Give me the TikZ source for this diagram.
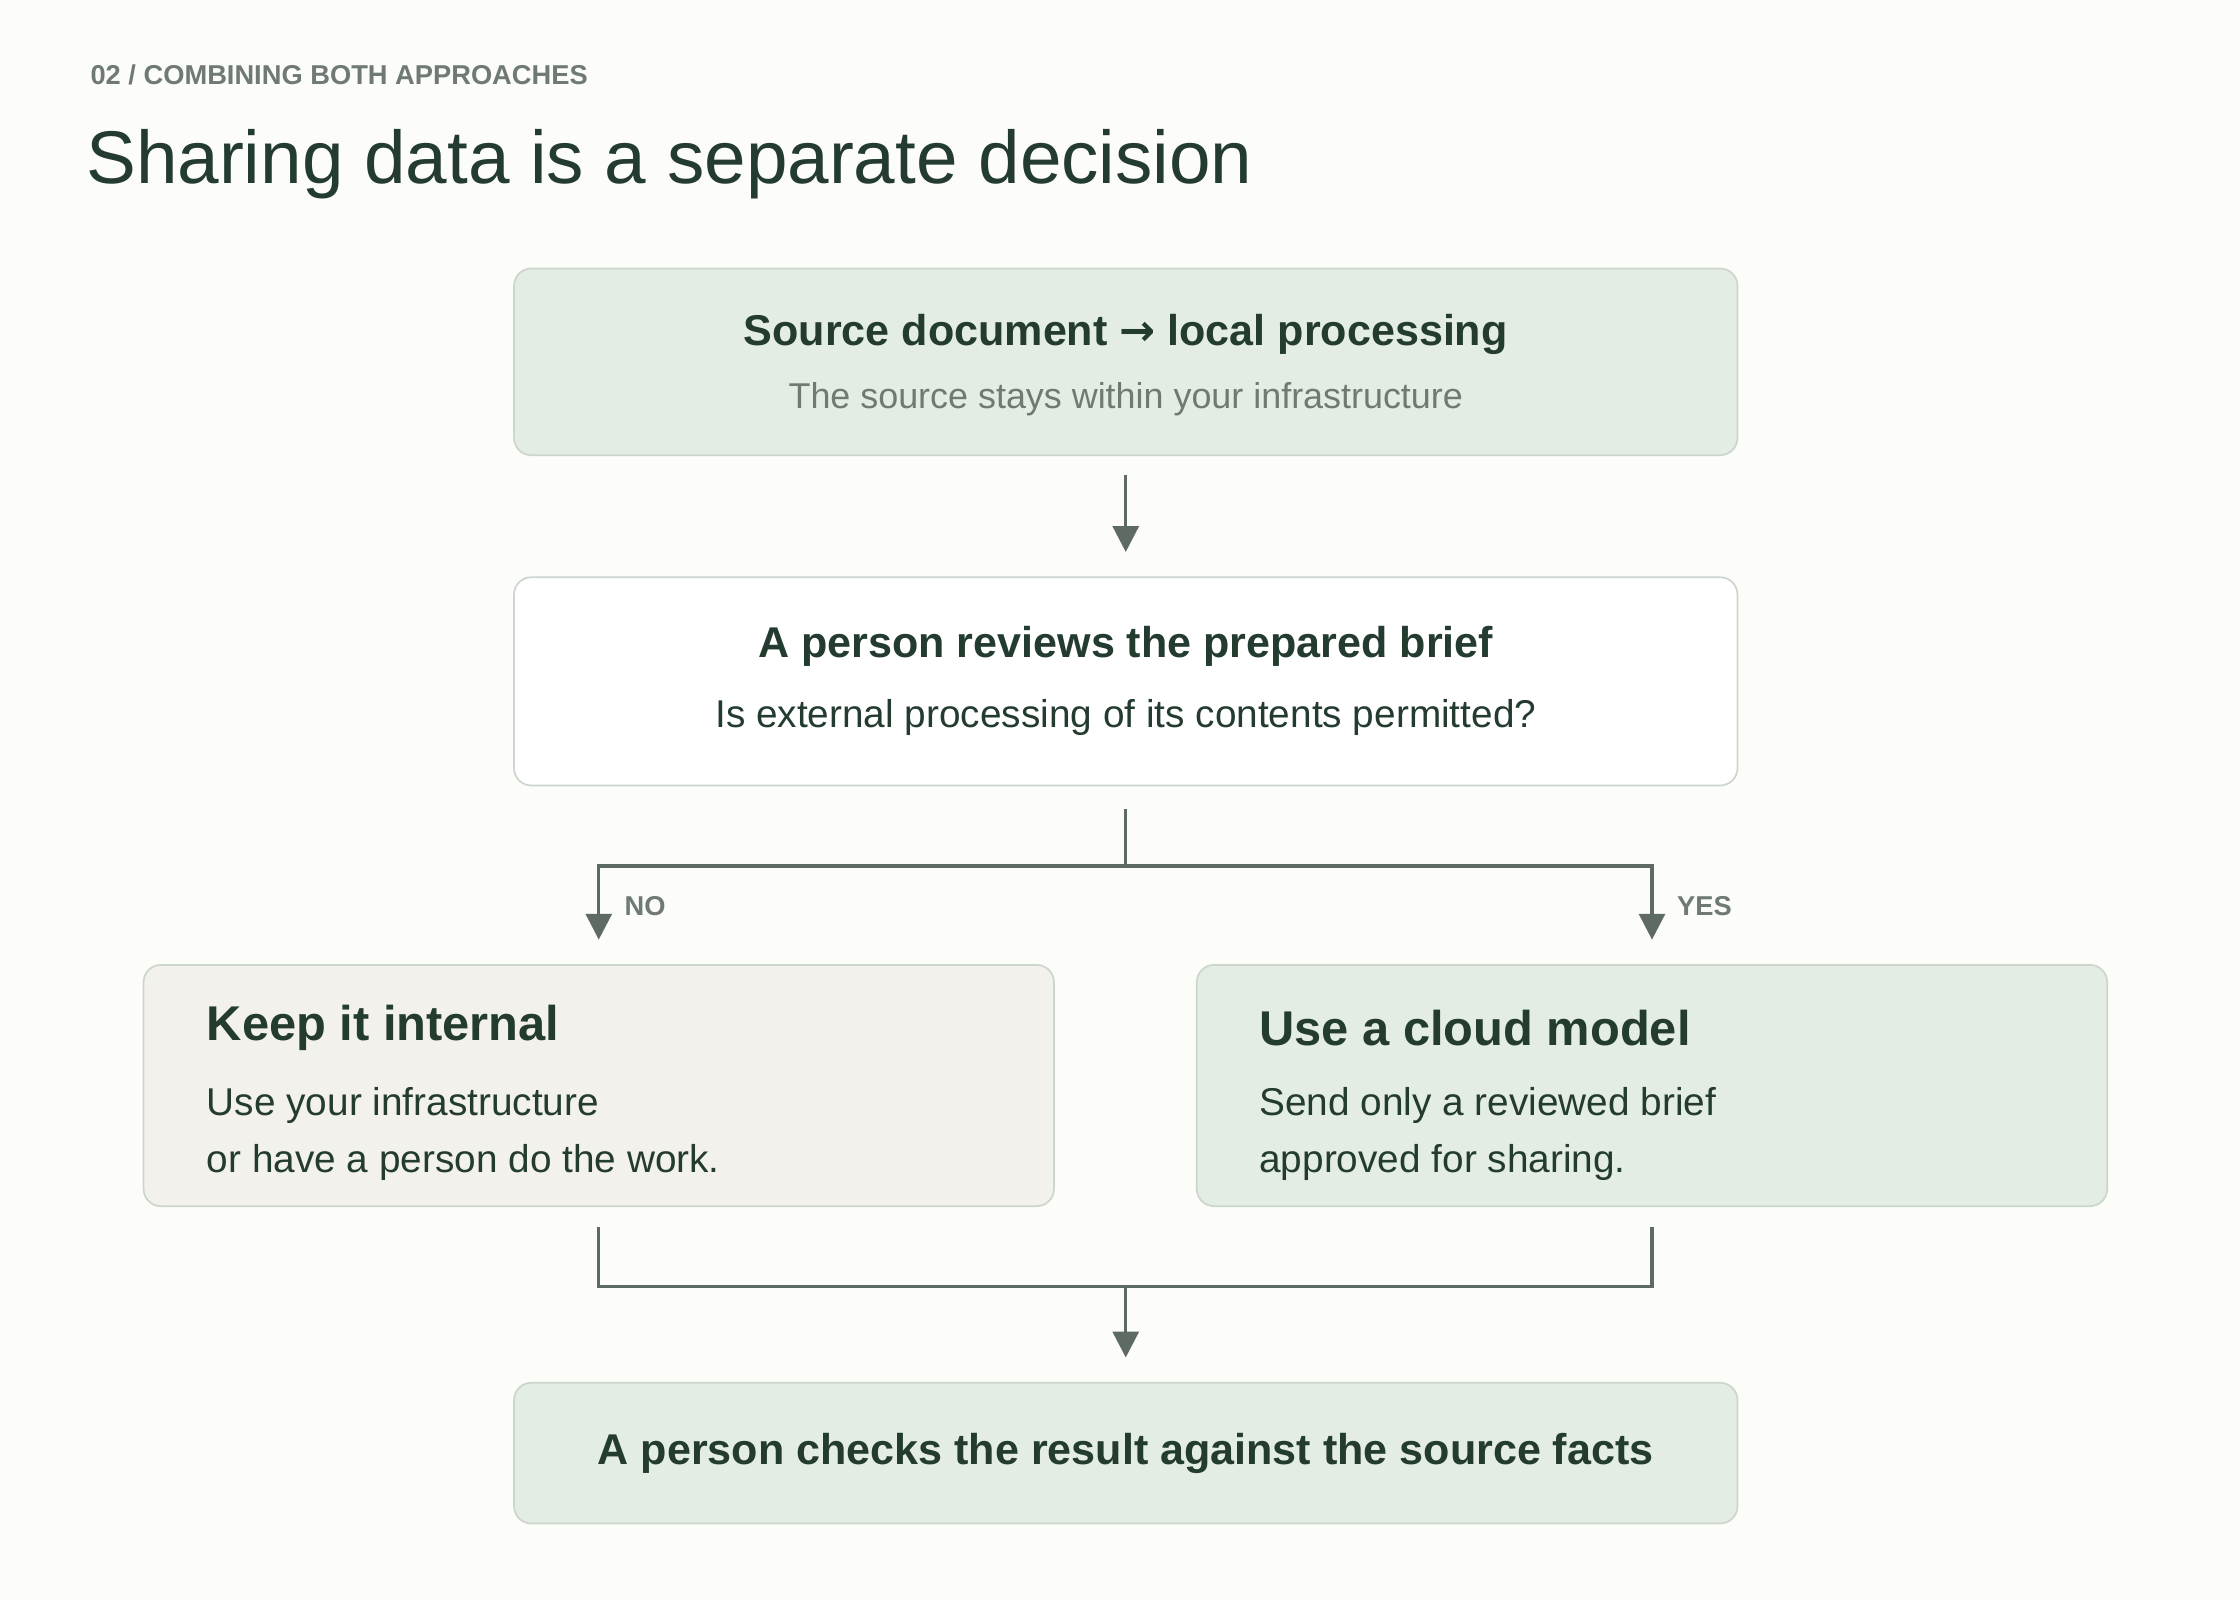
\documentclass[tikz,border=0pt]{standalone}
\usepackage{fontspec}
\setmainfont{Liberation Sans}
\usetikzlibrary{arrows.meta}
\definecolor{pagebg}{HTML}{FCFCF9}
\definecolor{ink}{HTML}{243C30}
\definecolor{muted}{HTML}{6E7A72}
\definecolor{wire}{HTML}{5E6B63}
\definecolor{greenbox}{HTML}{E3EDE4}
\definecolor{sandbox}{HTML}{F3F1EB}
\definecolor{edgeline}{HTML}{CCD6CE}
\begin{document}
\begin{tikzpicture}[x=0.5pt,y=-0.5pt,
    box/.style={rectangle,rounded corners=6pt,draw=edgeline,line width=0.6pt,inner sep=0pt},
    wide box/.style={box,minimum width=426pt},
    side box/.style={box,minimum width=317pt,minimum height=84pt},
    head/.style={font=\bfseries\fontsize{15}{18}\selectfont,text=ink},
    sub/.style={font=\fontsize{12.5}{15}\selectfont},
    side head/.style={anchor=west,font=\bfseries\fontsize{17}{20}\selectfont,text=ink},
    side text/.style={anchor=north west,align=left,font=\fontsize{13.5}{20}\selectfont,text=ink},
    wire/.style={draw=wire,line width=1.2pt},
    arr/.style={wire,-{Triangle[length=9pt,width=9pt]}},
    tag/.style={font=\bfseries\fontsize{9.5}{11}\selectfont,text=muted}]
    \fill[pagebg] (0,0) rectangle (1560,1114);
    \useasboundingbox (0,0) rectangle (1560,1114);

    \node[anchor=west,font=\bfseries\fontsize{9.5}{11}\selectfont,text=muted] (kicker) at (56,52) {02 / COMBINING BOTH APPROACHES};
    \node[anchor=west,font=\fontsize{26}{30}\selectfont,text=ink] (title) at (53,114) {Sharing data is a separate decision};

    % boxes
    \node[wide box,fill=greenbox,minimum height=65pt] at (784,252) (source) {};
    \node[head] at (784,233) (sourcehead) {Source document {\fontspec{DejaVu Sans}\bfseries →} local processing};
    \node[sub,text=muted] at (784,278) (sourcesub) {The source stays within your infrastructure};

    \node[wide box,fill=white,minimum height=72.5pt] at (784,474.5) (review) {};
    \node[head] at (784,450) (reviewhead) {A person reviews the prepared brief};
    \node[sub,text=ink,font=\fontsize{13.5}{16}\selectfont] at (784,500) (reviewsub) {Is external processing of its contents permitted?};

    \node[side box,fill=sandbox] at (417,756) (keep) {};
    \node[side head] at (137,716) (keephead) {Keep it internal};
    \node[side text] at (137,750) (keeptext) {Use your infrastructure\\or have a person do the work.};

    \node[side box,fill=greenbox] at (1150.5,756) (cloud) {};
    \node[side head] at (870,716) (cloudhead) {Use a cloud model};
    \node[side text] at (870,750) (cloudtext) {Send only a reviewed brief\\approved for sharing.};

    \node[wide box,fill=greenbox,minimum height=49pt,head] at (784,1012) (check) {A person checks the result against the source facts};

    % connectors
    \coordinate (split) at (784,603);
    \coordinate (join) at (784,896);
    \draw[arr,shorten <=6.5pt,shorten >=8.5pt] (source) -- (review);
    \draw[wire,shorten <=8pt] (review.south) -- (split);
    \draw[arr,shorten >=8.5pt] (split) -| (keep.north);
    \draw[arr,shorten >=8.5pt] (split) -| (cloud.north);
    \draw[wire,shorten <=7pt,shorten >=7pt] (keep.south) |- (join) -| (cloud.south);
    \draw[arr,shorten >=8.5pt] (join) -- (check.north);

    \node[tag,anchor=west] at (428,631) (no) {NO};
    \node[tag,anchor=west] at (1161,631) (yes) {YES};
\end{tikzpicture}
\end{document}
